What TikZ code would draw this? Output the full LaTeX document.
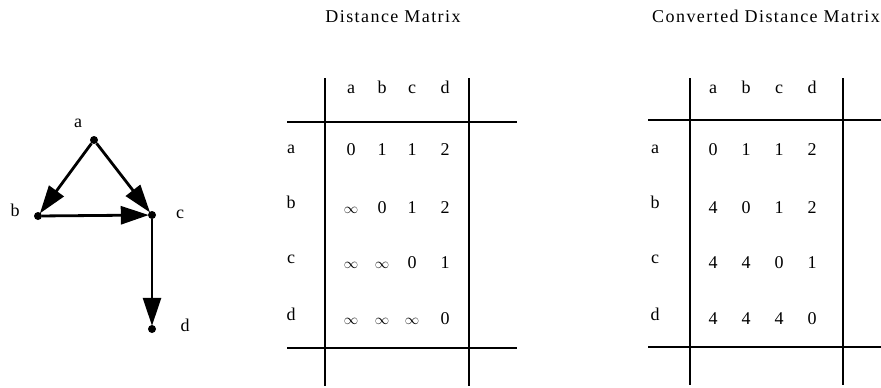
\documentclass[tikz,border=0pt]{standalone}
\usepackage{fontspec}
\setmainfont{Liberation Serif}
\usetikzlibrary{arrows.meta}
\begin{document}
\begin{tikzpicture}[x=1pt,y=-1pt,
  txt/.style={font=\fontsize{18}{20}\selectfont, inner sep=0pt, anchor=base},
  ttl/.style={font=\fontsize{18}{20}\selectfont\addfontfeature{LetterSpace=8}, inner sep=0pt, anchor=base},
  vdot/.style={circle, fill=black, inner sep=0pt, minimum size=8pt},
  arr/.style={line width=2.8pt, -{Triangle[length=28pt,width=18pt]}, shorten >=-1pt},
  rule/.style={line width=2.6pt}]
\path[use as bounding box] (0,0) rectangle (881,388);
% graph
\node[vdot] (a) at (94,140) {};
\node[vdot] (b) at (38,216) {};
\node[vdot] (c) at (152,215) {};
\node[vdot] (d) at (152,329) {};
\node[txt] (la) at (78,127) {a};
\node[txt] (lb) at (15,216) {b};
\node[txt] (lc) at (180,218) {c};
\node[txt] (ld) at (185,331) {d};
\draw[arr] (a) -- (b);
\draw[arr] (a) -- (c);
\draw[arr] (b) -- (c);
\draw[arr] (c) -- (d);
% titles
\node[ttl] (t1) at (393,22) {Distance Matrix};
\node[ttl] (t2) at (766,22) {Converted Distance Matrix};
% matrix 1 lines
\draw[rule] (325,78) -- (325,386);
\draw[rule] (469,78) -- (469,386);
\draw[rule] (287,122) -- (517,122);
\draw[rule] (287,348) -- (517,348);
% matrix 2 lines
\draw[rule] (690,78) -- (690,385);
\draw[rule] (843,78) -- (843,385);
\draw[rule] (648,120) -- (881,120);
\draw[rule] (648,347) -- (881,347);
% headers
\foreach \x/\l in {351/a,382/b,412/c,445/d} \node[txt] (h1\l) at (\x,93) {\l};
\foreach \x/\l in {713/a,746/b,779/c,812/d} \node[txt] (h2\l) at (\x,93) {\l};
% row labels
\foreach \y/\l in {153/a,208/b,263/c,320/d} {
  \node[txt] (r1\l) at (291,\y) {\l};
  \node[txt] (r2\l) at (655,\y) {\l};
}
% matrix 1 entries
\newcommand{\inff}{{\fontsize{14}{15}\selectfont$\infty$}}
\foreach \y/\r/\p/\q/\s/\t in {155/a/0/1/1/2, 213/b/\inff/0/1/2, 268/c/\inff/\inff/0/1, 324/d/\inff/\inff/\inff/0} {
  \node[txt] (m1\r1) at (351,\y) {\p};
  \node[txt] (m1\r2) at (382,\y) {\q};
  \node[txt] (m1\r3) at (412,\y) {\s};
  \node[txt] (m1\r4) at (445,\y) {\t};
}
% matrix 2 entries
\foreach \y/\r/\p/\q/\s/\t in {155/a/0/1/1/2, 213/b/4/0/1/2, 268/c/4/4/0/1, 324/d/4/4/4/0} {
  \node[txt] (m2\r1) at (713,\y) {\p};
  \node[txt] (m2\r2) at (746,\y) {\q};
  \node[txt] (m2\r3) at (779,\y) {\s};
  \node[txt] (m2\r4) at (812,\y) {\t};
}
\end{tikzpicture}
\end{document}
